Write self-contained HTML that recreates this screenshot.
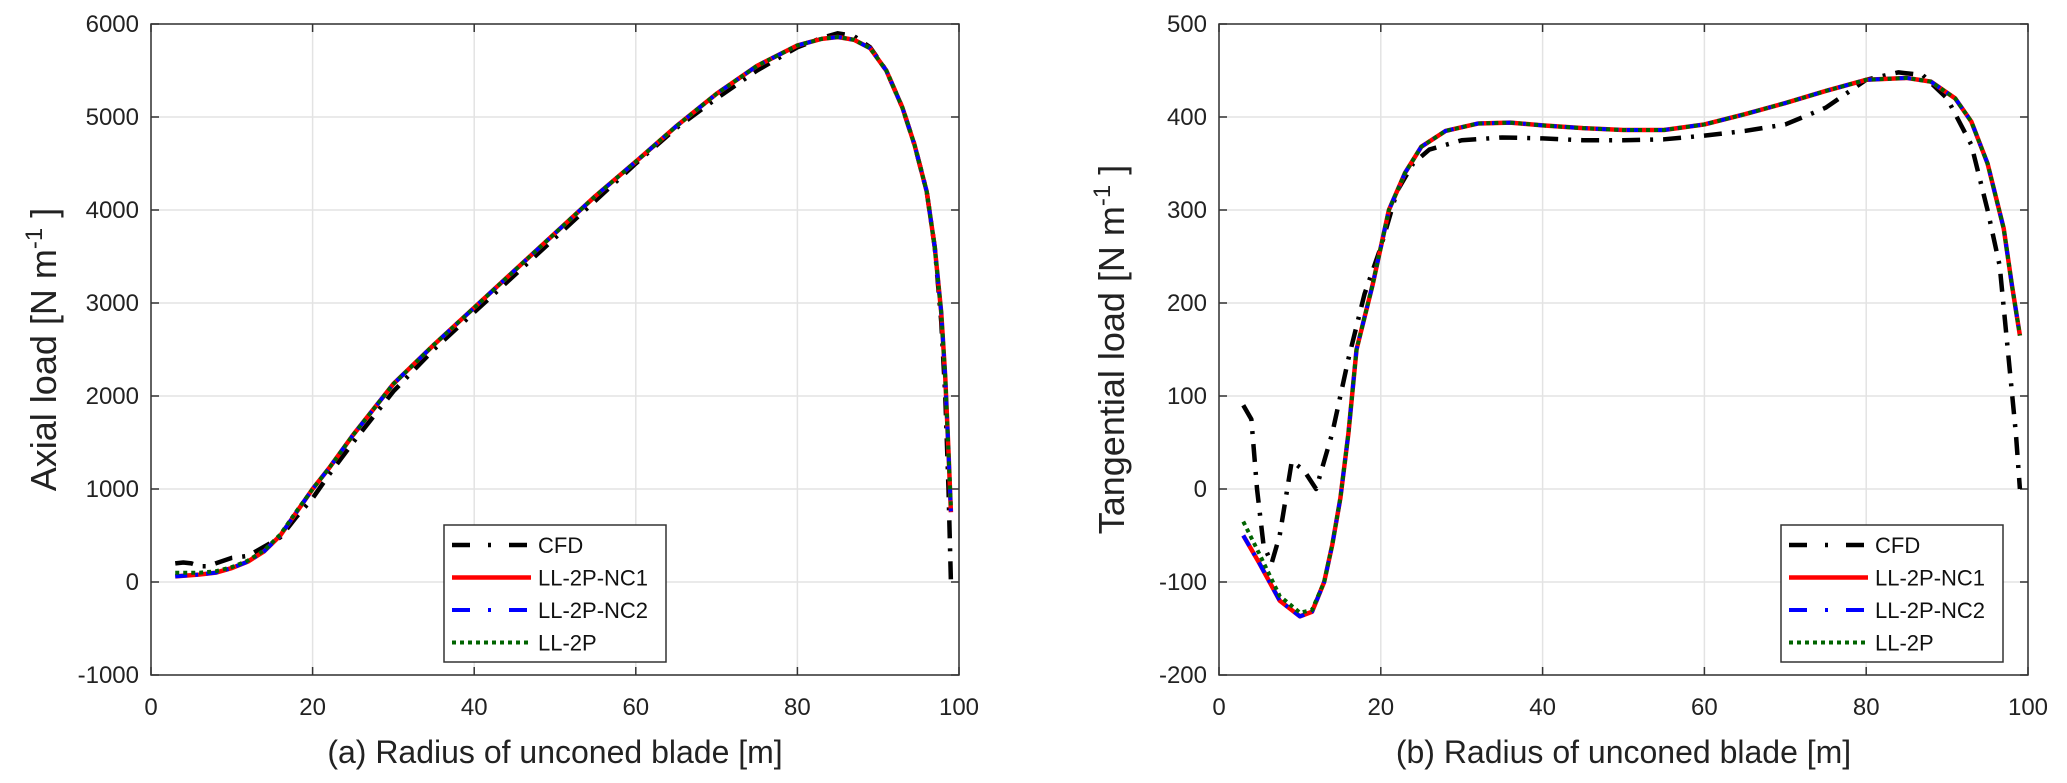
<!DOCTYPE html>
<html><head><meta charset="utf-8"><style>
body{margin:0;background:#fff;}
svg{display:block;font-family:"Liberation Sans",Arial,sans-serif;}
</style></head><body>
<svg id="c" width="2067" height="783"></svg>
<script>
const xTicks=[0,20,40,60,80,100];
const axTicks=[-1000,0,1000,2000,3000,4000,5000,6000];
const tgTicks=[-200,-100,0,100,200,300,400,500];
const axCfdX=[3,4,5,6,7,8,10,12,13,16,18,20,22,25,30,35,40,45,50,55,60,65,70,75,80,83,85,87,89,91,93,94.5,96,97,97.8,98.3,98.7,99];
const axCfdY=[200,210,200,170,170,200,260,280,330,480,700,900,1150,1500,2050,2500,2900,3300,3700,4100,4500,4880,5200,5500,5750,5850,5900,5870,5750,5500,5100,4700,4200,3600,2800,2000,1000,0];
const axLlX=[3,6,8,10,12,14,16,18,20,22,25,30,35,40,45,50,55,60,65,70,75,80,83,85,87,89,91,93,94.5,96,97,97.8,98.3,98.7,99];
const axLlY=[60,80,100,150,220,330,500,750,1000,1220,1580,2130,2550,2950,3350,3750,4150,4520,4900,5250,5550,5770,5840,5860,5830,5740,5500,5100,4700,4200,3600,2900,2200,1400,750];
const axL2Y=[100,100,115,160,230,340,510,760,1000,1220,1580,2130,2550,2950,3350,3750,4150,4520,4900,5250,5550,5770,5840,5860,5830,5740,5500,5100,4700,4200,3600,2900,2200,1400,800];
const tgCfdX=[3,4,4.7,5.5,6.5,7.5,9,10.5,12,14,16,18,20,22,24,26,30,35,40,45,50,55,60,65,70,75,80,84,87,90,93,95,96.5,97.5,98.5,99];
const tgCfdY=[90,75,0,-60,-80,-50,30,20,0,60,140,210,260,320,350,365,375,378,377,375,375,376,380,385,392,410,440,448,445,420,370,300,240,150,60,0];
const tgLlX=[3,5,7.5,10,11.5,13,14,15,16,17,19,21,23,25,28,32,36,40,45,50,55,60,65,70,75,80,85,88,91,93,95,97,98,99];
const tgLlY=[-50,-80,-120,-137,-132,-100,-60,-10,60,150,220,300,340,368,385,393,394,391,388,386,386,392,403,415,428,440,442,438,420,395,350,280,220,165];
const tgL2Y=[-35,-70,-115,-133,-130,-100,-60,-10,60,150,220,300,340,368,385,393,394,391,388,386,386,392,403,415,428,440,442,438,420,395,350,280,220,165];

const NS="http://www.w3.org/2000/svg";
const svg=document.getElementById('c');
function el(t,a,p){const e=document.createElementNS(NS,t);for(const k in a)e.setAttribute(k,a[k]);(p||svg).appendChild(e);return e;}
const series=[
 {name:'CFD',color:'#000',dash:'18,10,3,10',w:4.5},
 {name:'LL-2P-NC1',color:'#ff0000',dash:'',w:4.5},
 {name:'LL-2P-NC2',color:'#0000ff',dash:'12,8,3,8',w:4},
 {name:'LL-2P',color:'#006400',dash:'4,4',w:4}];
function panel(id,L,R,T,B,ymin,ymax,yt,ytitle,xtitle,data,legX){
 const g=el('g',{});
 
 
 const sx=v=>L+(v-0)/100*(R-L), sy=v=>B-(v-ymin)/(ymax-ymin)*(B-T);
 xTicks.forEach(t=>{const l=el('line',{x1:sx(t),x2:sx(t),y1:T,y2:B,stroke:'#e3e3e3','stroke-width':1.5},g);});
 yt.forEach(t=>{const l=el('line',{x1:L,x2:R,y1:sy(t),y2:sy(t),stroke:'#e3e3e3','stroke-width':1.5},g);});
 xTicks.forEach(t=>{el('line',{x1:sx(t),x2:sx(t),y1:B,y2:B-8,stroke:'#333','stroke-width':1.5},g);el('line',{x1:sx(t),x2:sx(t),y1:T,y2:T+8,stroke:'#333','stroke-width':1.5},g);
  const tx=el('text',{x:sx(t),y:B+40,'text-anchor':'middle','font-size':24,fill:'#222'},g);tx.textContent=t;
  });
 yt.forEach(t=>{el('line',{x1:L,x2:L+8,y1:sy(t),y2:sy(t),stroke:'#333','stroke-width':1.5},g);el('line',{x1:R,x2:R-8,y1:sy(t),y2:sy(t),stroke:'#333','stroke-width':1.5},g);
  const tx=el('text',{x:L-12,y:sy(t)+8,'text-anchor':'end','font-size':24,fill:'#222'},g);tx.textContent=t;
  });
 data.forEach((d,i)=>{const s=series[i];
  const p=el('polyline',{points:d[0].map((x,j)=>sx(x)+','+sy(d[1][j])).join(' '),fill:'none',stroke:s.color,'stroke-width':s.w,'stroke-dasharray':s.dash,'stroke-linejoin':'round'},g);
  });
 const box=el('rect',{x:L,y:T,width:R-L,height:B-T,fill:'none',stroke:'#333','stroke-width':1.5},g);
 
 const yl=el('text',{transform:`translate(${L-95},${(T+B)/2}) rotate(-90)`,'text-anchor':'middle','font-size':36,fill:'#222'},g);
 yl.innerHTML=ytitle+' [N m<tspan dy="-14" font-size="24">-1</tspan><tspan dy="14"> ]</tspan>';
 
 const xl=el('text',{x:(L+R)/2,y:B+88,'text-anchor':'middle','font-size':32,fill:'#222'},g);xl.textContent=xtitle;
 
 const lg=el('g',{},g);
 el('rect',{x:legX,y:525,width:222,height:137,fill:'#fff',stroke:'#333','stroke-width':1.5},lg);
 series.forEach((s,i)=>{const y=545+i*32.5;
  const e=el('g',{},lg);
  el('line',{x1:legX+8,x2:legX+87,y1:y,y2:y,stroke:s.color,'stroke-width':s.w,'stroke-dasharray':i==1?'':(i==3?'4,4':'18,18,3,18')},e);
  const t=el('text',{x:legX+94,y:y+8,'font-size':22,fill:'#111'},e);t.textContent=s.name;});
}
panel('axial-load-chart',151,959,24,675,-1000,6000,axTicks,'Axial load','(a) Radius of unconed blade [m]',
 [[axCfdX,axCfdY],[axLlX,axLlY],[axLlX,axLlY],[axLlX,axL2Y]],444);
panel('tangential-load-chart',1219,2028,24,675,-200,500,tgTicks,'Tangential load','(b) Radius of unconed blade [m]',
 [[tgCfdX,tgCfdY],[tgLlX,tgLlY],[tgLlX,tgLlY],[tgLlX,tgL2Y]],1781);
</script>
</body></html>
